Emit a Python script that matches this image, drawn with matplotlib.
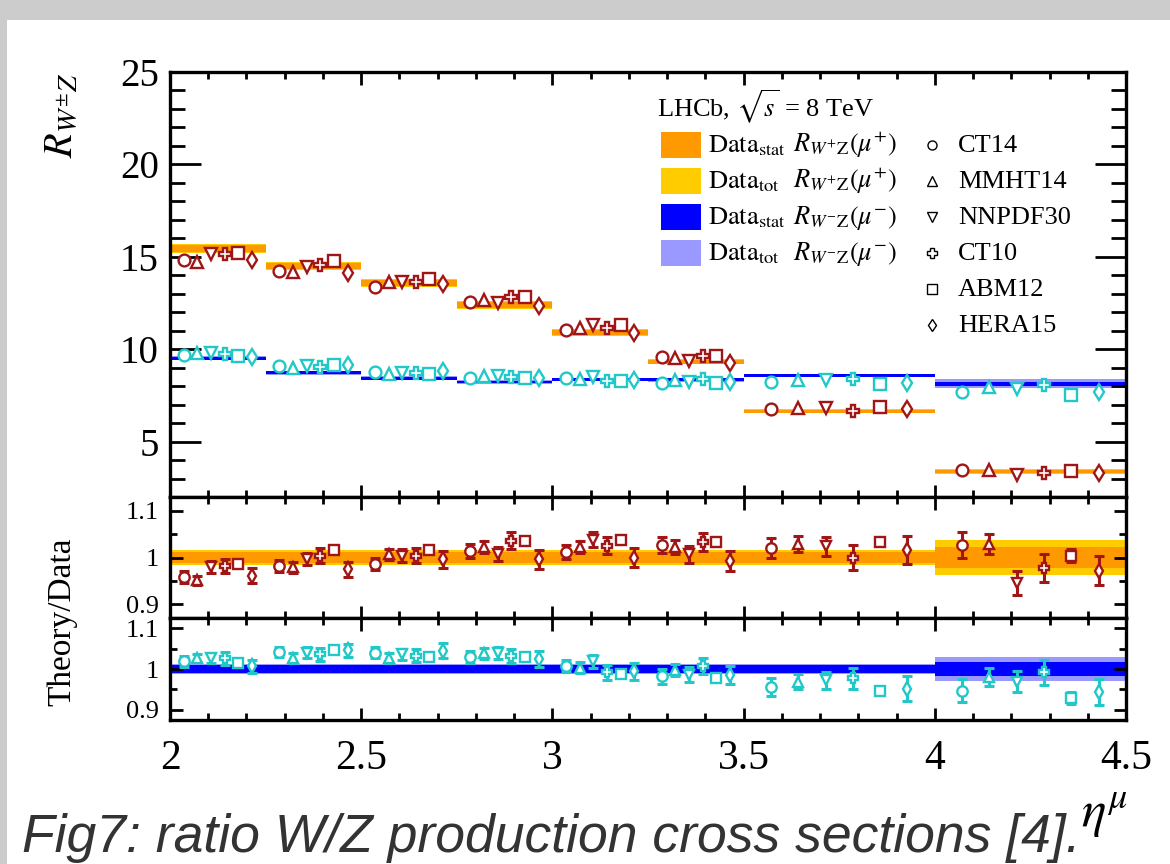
"""
W/Z cross-section ratio versus muon pseudorapidity, with Theory/Data panels
"""
import matplotlib
matplotlib.use('Agg')
import matplotlib.pyplot as plt
from matplotlib.patches import Rectangle
from matplotlib.lines import Line2D
from matplotlib.ticker import MultipleLocator, FixedLocator, FuncFormatter
import numpy as np

plt.rcParams['font.family'] = ['Liberation Serif', 'DejaVu Serif']
plt.rcParams['mathtext.fontset'] = 'stix'

# eta^mu bins
bin_edges = [2.0, 2.25, 2.5, 2.75, 3.0, 3.25, 3.5, 4.0, 4.5]

# measured ratios R_W+Z and R_W-Z
data_wp = [15.45, 14.50, 13.56, 12.39, 10.90, 9.32, 6.64, 3.38]
data_wm = [9.51, 8.73, 8.43, 8.22, 8.36, 8.34, 8.58, 8.12]

# relative uncertainties (stat only / total)
wp_stat = [0.012, 0.012, 0.012, 0.012, 0.012, 0.012, 0.012, 0.022]
wp_tot = [0.016, 0.016, 0.016, 0.016, 0.016, 0.016, 0.016, 0.037]
wm_stat = [0.009, 0.009, 0.009, 0.009, 0.009, 0.009, 0.009, 0.016]
wm_tot = [0.012, 0.012, 0.012, 0.012, 0.012, 0.012, 0.012, 0.030]

pdf_names = ['CT14', 'MMHT14', 'NNPDF30', 'CT10', 'ABM12', 'HERA15']
pdf_markers = ['o', '^', 'v', 'P', 's', 'd']

# theory / data, W+
wp_ct14 = [0.958, 0.982, 0.987, 1.013, 1.012, 1.027, 1.020, 1.027]
wp_mmht14 = [0.951, 0.979, 1.007, 1.022, 1.022, 1.022, 1.029, 1.029]
wp_nnpdf30 = [0.980, 0.997, 1.004, 1.007, 1.038, 1.007, 1.024, 0.946]
wp_ct10 = [0.982, 1.004, 1.004, 1.036, 1.025, 1.033, 1.000, 0.978]
wp_abm12 = [0.985, 1.017, 1.017, 1.035, 1.038, 1.033, 1.033, 1.004]
wp_hera15 = [0.961, 0.975, 0.996, 0.996, 1.000, 0.993, 1.017, 0.972]

# theory / data, W-
wm_ct14 = [1.019, 1.042, 1.040, 1.030, 1.007, 0.982, 0.957, 0.947]
wm_mmht14 = [1.027, 1.027, 1.026, 1.038, 1.003, 0.998, 0.969, 0.980]
wm_nnpdf30 = [1.027, 1.040, 1.036, 1.040, 1.019, 0.986, 0.972, 0.969]
wm_ct10 = [1.026, 1.036, 1.032, 1.032, 0.992, 1.007, 0.977, 0.992]
wm_abm12 = [1.015, 1.046, 1.030, 1.030, 0.988, 0.977, 0.946, 0.929]
wm_hera15 = [1.007, 1.046, 1.045, 1.025, 0.994, 0.986, 0.952, 0.944]

# PDF uncertainties on theory / data
err_ct14 = [0.013, 0.013, 0.013, 0.015, 0.015, 0.018, 0.022, 0.028]
err_mmht14 = [0.010, 0.012, 0.012, 0.013, 0.013, 0.015, 0.018, 0.022]
err_nnpdf30 = [0.013, 0.013, 0.014, 0.015, 0.016, 0.018, 0.020, 0.026]
err_ct10 = [0.015, 0.016, 0.016, 0.018, 0.018, 0.020, 0.026, 0.030]
err_abm12 = [0.003, 0.003, 0.003, 0.004, 0.004, 0.006, 0.006, 0.014]
err_hera15 = [0.016, 0.016, 0.018, 0.020, 0.020, 0.022, 0.030, 0.032]

wp_theory = [wp_ct14, wp_mmht14, wp_nnpdf30, wp_ct10, wp_abm12, wp_hera15]
wm_theory = [wm_ct14, wm_mmht14, wm_nnpdf30, wm_ct10, wm_abm12, wm_hera15]
pdf_err = [err_ct14, err_mmht14, err_nnpdf30, err_ct10, err_abm12, err_hera15]

C_STAT_P, C_TOT_P = '#ff9900', '#ffcc00'
C_STAT_M, C_TOT_M = '#0000ff', '#9999ff'
C_MARK_P, C_MARK_M = '#a01616', '#22c8c8'

W, H = 1170, 864
fx = lambda px: px / W
fy = lambda py: 1 - py / H

fig = plt.figure(figsize=(W / 100, H / 100), dpi=100, facecolor='#cccccc')
fig.patches.append(Rectangle((fx(7), 0), 1, fy(20), transform=fig.transFigure,
                             facecolor='white', edgecolor='none', zorder=-1))

left, width = fx(170), (1126 - 170) / W
ax = fig.add_axes([left, fy(497), width, (497 - 72) / H])
r1 = fig.add_axes([left, fy(618), width, (618 - 497) / H])
r2 = fig.add_axes([left, fy(720), width, (720 - 618) / H])

edges = np.array(bin_edges)
lo, wid = edges[:-1], np.diff(edges)


def bands(a, centre, rel_stat, rel_tot, c_stat, c_tot):
    centre = np.asarray(centre, dtype=float)
    for rel, c in ((rel_tot, c_tot), (rel_stat, c_stat)):
        e = centre * np.asarray(rel)
        a.bar(lo, 2 * e, bottom=centre - e, width=wid, align='edge',
              color=c, linewidth=0, zorder=1)


def marker_x(k):
    return lo + (k + 1) * wid / 7


# main panel
bands(ax, data_wp, wp_stat, wp_tot, C_STAT_P, C_TOT_P)
bands(ax, data_wm, wm_stat, wm_tot, C_STAT_M, C_TOT_M)
for k, m in enumerate(pdf_markers):
    ax.plot(marker_x(k), np.array(wp_theory[k]) * np.array(data_wp), ls='none',
            marker=m, ms=8.5, mfc='white', mec=C_MARK_P, mew=1.7, zorder=3)
    ax.plot(marker_x(k), np.array(wm_theory[k]) * np.array(data_wm), ls='none',
            marker=m, ms=8.5, mfc='white', mec=C_MARK_M, mew=1.7, zorder=3)

# ratio panels
ones = np.ones(len(lo))
bands(r1, ones, wp_stat, wp_tot, C_STAT_P, C_TOT_P)
bands(r2, ones, wm_stat, wm_tot, C_STAT_M, C_TOT_M)
for a, theory, col in ((r1, wp_theory, C_MARK_P), (r2, wm_theory, C_MARK_M)):
    for k, m in enumerate(pdf_markers):
        a.errorbar(marker_x(k), theory[k], yerr=pdf_err[k], fmt='none', ecolor=col,
                   elinewidth=2.2, capsize=3.5, capthick=2.2, zorder=2)
        a.plot(marker_x(k), theory[k], ls='none', marker=m, ms=7.5, mfc='white',
               mec=col, mew=1.7, zorder=3)

fmt = FuncFormatter(lambda v, p: f'{v:g}')
for a in (ax, r1, r2):
    a.set_xlim(2, 4.5)
    a.xaxis.set_major_locator(MultipleLocator(0.5))
    a.xaxis.set_minor_locator(MultipleLocator(0.1))
    a.tick_params(which='both', direction='in', top=True, right=True, width=2)
    a.tick_params(axis='x', which='major', length=9)
    a.tick_params(axis='x', which='minor', length=5)
    a.yaxis.set_major_formatter(fmt)
    for s in a.spines.values():
        s.set_linewidth(2.4)
    if a is not r2:
        a.tick_params(axis='x', labelbottom=False)

ax.set_ylim(2, 25)
ax.yaxis.set_major_locator(MultipleLocator(5))
ax.yaxis.set_minor_locator(MultipleLocator(1))
ax.tick_params(axis='y', which='major', length=22, labelsize=28, pad=8)
ax.tick_params(axis='y', which='minor', length=11)

r1.set_ylim(0.87, 1.13)
r2.set_ylim(0.875, 1.125)
for a in (r1, r2):
    a.yaxis.set_major_locator(FixedLocator([0.9, 1.0, 1.1]))
    a.yaxis.set_minor_locator(FixedLocator([0.95, 1.05]))
    a.tick_params(axis='y', which='major', length=9, labelsize=19, pad=8)
    a.tick_params(axis='y', which='minor', length=5)
r2.xaxis.set_major_formatter(fmt)
r2.tick_params(axis='x', labelsize=30, pad=14)

# axis titles
fig.text(fx(62), fy(115), r'$R_{W^{\pm}Z}$', rotation=90, ha='center', va='center', fontsize=29)
fig.text(fx(62), fy(622), 'Theory/Data', rotation=90, ha='center', va='center', fontsize=24)
fig.text(fx(1104), fy(816), r'$\eta^{\mu}$', ha='center', va='center', fontsize=37)

# legend
fig.text(fx(657), fy(117), r'LHCb, $\sqrt{s}$ = 8 TeV', fontsize=19, va='baseline')
leg_rows = [
    (C_STAT_P, 'stat', '+'),
    (C_TOT_P, 'tot', '+'),
    (C_STAT_M, 'stat', '-'),
    (C_TOT_M, 'tot', '-'),
]
row_y = [145, 181, 217, 253, 289, 325]
for (c, kind, sign), cy in zip(leg_rows, row_y):
    fig.add_artist(Rectangle((fx(661), fy(cy + 13)), 40 / W, 26 / H, transform=fig.transFigure,
                             facecolor=c, edgecolor='none', zorder=5))
    fig.text(fx(708), fy(cy + 7), r'$\mathrm{Data}_{\mathrm{' + kind + '}}$',
             fontsize=19, va='baseline')
    fig.text(fx(793), fy(cy + 7), r'$R_{W^{' + sign + r'}\mathrm{Z}}(\mu^{' + sign + '})$',
             fontsize=19, va='baseline')
for name, m, cy in zip(pdf_names, pdf_markers, row_y):
    fig.add_artist(Line2D([fx(932)], [fy(cy)], transform=fig.transFigure, marker=m, ls='none',
                          ms=6.5, mfc='white', mec='black', mew=1.0, zorder=5))
    fig.text(fx(958), fy(cy + 7), name, fontsize=19, va='baseline')

fig.text(fx(22), fy(852), 'Fig7: ratio W/Z production cross sections [4].',
         family='Liberation Sans', style='italic', fontsize=38.5, color='#333333', va='baseline')

fig.savefig('out.png', dpi=100, facecolor=fig.get_facecolor())
